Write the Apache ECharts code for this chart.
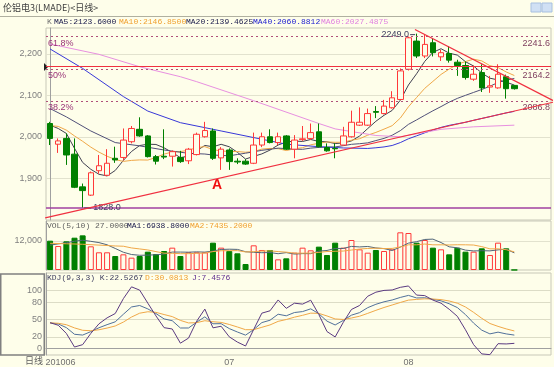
<!DOCTYPE html>
<html><head><meta charset="utf-8">
<script src="https://cdn.jsdelivr.net/npm/echarts@6/dist/echarts.min.js"></script>
<style>html,body{margin:0;padding:0;background:#FEFEEA}#c{width:554px;height:367px}</style>
</head><body><div id="c"></div><script>
// ---------- data ----------
const junDays = [1,2,3,4,7,8,9,10,11,14,15,16,17,18,21,22,23,24,25,28,29,30];
const julDays = [1,2,5,6,7,8,9,12,13,14,15,16,19,20,21,22,23,26,27,28,29,30];
const augDays = [2,3,4,5,6,9,10,11,12,13,16,17,18,19];
const emptySlots = 4;

const opens  = [2032,1982,1996,1958,1879,1859,1918,1907,1948,1950, 1988,2018,2002,1952,1953,1953,1950,1942,1957,2000, 2014,1949,1968,1941,1941,1936,1980,2000,1986,2002, 1970,1993,1996,2012,1974,1972,1980,2000,2028,2028, 2061,2056,2070,2090,2163,2231,2195,2227,2193,2201, 2180,2172,2139,2155,2120,2118,2145,2124];
const closes = [1996,1990,1956,1878,1870,1913,1930,1936,1944,1992, 2020,2002,1952,1941,1951,1964,1940,1970,2006,2015, 1948,1970,1940,1939,1934,1980,2000,1986,2000,1970, 1992,1995,2010,1976,1966,1971,2002,2035,2035,2056, 2059,2074,2094,2159,2239,2195,2223,2203,2203,2185, 2172,2143,2151,2118,2123,2151,2116,2116];
const lows   = [1980,1961,1932,1876,1828,1857,1911,1905,1937,1943, 1984,2000,1950,1933,1946,1928,1937,1934,1955,1998, 1944,1920,1920,1934,1932,1934,1975,1984,1980,1968, 1948,1990,1992,1974,1964,1948,1978,1998,2026,2026, 2045,2054,2068,2088,2160,2190,2190,2194,2183,2179, 2147,2138,2135,2108,2106,2116,2092,2114];
const highs  = [2036,1996,2008,1996,1887,1916,1956,1970,1976,2020, 2026,2047,2004,1956,2018,1967,1966,1973,2010,2036, 2020,1975,1972,1948,1946,2010,2010,2018,2010,2004, 2004,2026,2032,2032,1984,1984,2024,2063,2071,2068, 2074,2089,2110,2165,2242,2249,2246,2238,2210,2219, 2186,2182,2172,2175,2147,2175,2150,2125];
const volumes = [12130,9930,11870,13370,14340,9800,7320,7320,5790,6480, 5100,5790,7590,6620,7860,9240,5790,7320,7320,7320, 11310,9240,7860,6900,2480,10210,8280,8280,4410,4830, 7170,9240,8140,9660,6210,11310,9240,12410,8550,7170, 8280,7860,8550,15590,15310,11310,12410,9240,8550,6480, 9240,7590,7590,8970,6210,11310,8970,27];

// moving-average values before enough bars exist [index, value]
const ma5Head  = [[0,2028],[1,2020],[2,2008],[3,1972]];
const ma10Head = [[0,2027],[1,2025],[2,2016],[3,2002],[4,1989],[5,1975],[6,1963],[7,1953],[8,1945]];
const ma20Head = [[0,2068],[2,2048],[5,2014],[8,1986],[11,1978],[14,1968],[17,1960]];
const ma40Head = [[0,2212],[4,2165],[9,2097],[12,2062],[16,2034],[19,2022],[21,2014],[26,1994],[29,1982],[33,1976],[36,1973]];
const ma60Read = [[0,2224],[6,2199],[11,2169],[16,2145],[18,2133],[25,2087],[33,2032],[35,2019],[40,2003],[43,2000],[48,2018],[52,2024],[57,2028]];
const volMa5Head  = [[0,10300],[1,10800],[2,11300],[3,11900]];
const volMa10Head = [[0,11050],[2,10850],[4,10650],[6,10300],[8,9950]];
const kdjPrior = [52, 44]; // K, D before first bar

const fibValues = [2241.6, 2164.2, 2086.8];
const fibPct    = ['61.8%', '50%', '38.2%'];
const redLevel  = 2170;
const lowLevel  = 1828.0;
const highMark  = [45, 2249.0];
const lowMark   = [4, 1828.0];
const supportLine = [[-0.6, 1804], [61.9, 2084]];
const resistLine  = [[44.8, 2259], [61.9, 2086]];
const labelA = [20.5, 1883];

const maLegend  = ['K','MA5:2123.6000','MA10:2146.8500','MA20:2139.4625','MA40:2060.8812','MA60:2027.4875'];
const volLegend = ['VOL(5,10) 27.0000','MA1:6938.8000','MA2:7435.2000'];
const kdjLegend = ['KDJ(9,3,3) K:22.5267','D:30.0813','J:7.4576'];
const mainTicks = [1900,2000,2100,2200];
const volTicks  = [12000];
const kdjTicks  = [0,20,50,80,100];

// ---------- derived ----------
const BG = '#FEFEEA', UP = '#FF3838', DN = '#008000';
const cats = [];
junDays.forEach(d=>cats.push('2010-06-'+String(d).padStart(2,'0')));
julDays.forEach(d=>cats.push('2010-07-'+String(d).padStart(2,'0')));
augDays.forEach(d=>cats.push('2010-08-'+String(d).padStart(2,'0')));
for(let i=1;i<=emptySlots;i++) cats.push('+'+i);
const N = closes.length;
function sparse(pairs){const a=new Array(N).fill(null);pairs.forEach(p=>a[p[0]]=p[1]);return a;}
function ma(arr,n,head){const h=sparse(head);return arr.map((v,i)=>{if(i<n-1)return h[i];let s=0;for(let t=i-n+1;t<=i;t++)s+=arr[t];return +(s/n).toFixed(2);});}
const ma5=ma(closes,5,ma5Head), ma10=ma(closes,10,ma10Head), ma20=ma(closes,20,ma20Head), ma40=ma(closes,40,ma40Head), ma60=sparse(ma60Read);
const vma5=ma(volumes,5,volMa5Head), vma10=ma(volumes,10,volMa10Head);
const K=[],D=[],J=[];
(function(){let k=kdjPrior[0],d=kdjPrior[1];for(let i=0;i<N;i++){let hh=-Infinity,ll=Infinity;for(let t=Math.max(0,i-8);t<=i;t++){hh=Math.max(hh,highs[t]);ll=Math.min(ll,lows[t]);}const rsv=hh===ll?50:(closes[i]-ll)/(hh-ll)*100;k=2/3*k+rsv/3;d=2/3*d+k/3;K.push(+k.toFixed(2));D.push(+d.toFixed(2));J.push(+(3*k-2*d).toFixed(2));}})();
const candle = opens.map((o,i)=>[o,closes[i],lows[i],highs[i]]);
const volData = volumes.map((v,i)=>{const up=closes[i]>=opens[i];return {value:v,itemStyle:{color:up?BG:DN,borderColor:up?UP:DN,borderWidth:1}};});

const chart = echarts.init(document.getElementById('c'));
const F = '"Liberation Sans", Arial, sans-serif';
const M = '"Liberation Mono", "DejaVu Sans Mono", monospace';
const L = 46, R = 3;
function monthLabel(v,i){
  if(i===0) return '{first|'+v.slice(0,4)+v.slice(5,7)+'}';
  if(v[0]!=='+' && v.slice(5,7)!==cats[i-1].slice(5,7)) return v.slice(5,7);
  return '';
}
function catAxis(g,show){return {type:'category',gridIndex:g,data:cats,boundaryGap:true,
  axisLine:{show:show,lineStyle:{color:'#A0A0A0'}},axisTick:{show:false},
  axisLabel:{show:show,interval:0,color:'#707070',fontSize:9,fontFamily:F,margin:3,formatter:monthLabel,
    rich:{first:{fontSize:9,fontFamily:F,color:'#707070',padding:[0,0,0,21]}}},
  splitLine:{show:false}};}
function lineS(data,color,x,y,w){return {type:'line',data:data,xAxisIndex:x,yAxisIndex:y,symbol:'none',connectNulls:true,
  lineStyle:{color:color,width:w||1},silent:true,z:3};}
const fibMarks=[];
fibValues.forEach((v,k)=>{
  fibMarks.push({yAxis:v,lineStyle:{type:[2,3],color:'#B0507A',width:1},label:{show:true,position:'insideEndBottom',formatter:v.toFixed(1),color:'#804060',fontSize:9,fontFamily:F,distance:[1,2]}});
  fibMarks.push({yAxis:v,lineStyle:{type:'solid',color:'rgba(0,0,0,0)',width:1},label:{show:true,position:'insideStartBottom',formatter:fibPct[k],color:'#993377',fontSize:9,fontFamily:F,distance:[2,2]}});
});
fibMarks.push({yAxis:redLevel,lineStyle:{type:'solid',color:'#F03040',width:1.2},label:{show:false}});
fibMarks.push({yAxis:lowLevel,lineStyle:{type:'solid',color:'#A040A0',width:1.5},label:{show:false}});

function txt(x,y,s,c,font,align){return {type:'text',x:x,y:y,silent:true,style:{text:s,fill:c,font:font||('8px '+M),align:align||'left',verticalAlign:'middle'}};}

const option = {
  backgroundColor: BG,
  animation:false,
  grid:[
    {left:L,right:R,top:28,height:192,show:true,borderColor:'#C8C8B8',borderWidth:1},
    {left:L,right:R,top:221,height:49,show:true,borderColor:'#C8C8B8',borderWidth:1},
    {left:L,right:R,top:273,height:82,show:true,borderColor:'#C8C8B8',borderWidth:1}
  ],
  xAxis:[catAxis(0,false),catAxis(1,false),catAxis(2,true),
    {type:'value',gridIndex:0,min:-0.5,max:cats.length-0.5,show:false}],
  yAxis:[
    {type:'value',gridIndex:0,min:1799,max:2262.6,axisLine:{show:true,lineStyle:{color:'#A0A0A0'}},axisTick:{show:false,customValues:mainTicks},
     axisLabel:{customValues:mainTicks,color:'#808080',fontSize:9,fontFamily:F,margin:4},splitLine:{show:true,lineStyle:{color:'#E2E2CE'}}},
    {type:'value',gridIndex:1,min:0,max:20276,axisLine:{show:true,lineStyle:{color:'#A0A0A0'}},axisTick:{show:false,customValues:volTicks},
     axisLabel:{customValues:volTicks,color:'#808080',fontSize:9,fontFamily:F,margin:4},splitLine:{show:true,lineStyle:{color:'#E2E2CE'}}},
    {type:'value',gridIndex:2,min:-11.6,max:130.7,axisLine:{show:true,lineStyle:{color:'#A0A0A0'}},axisTick:{show:false,customValues:kdjTicks},
     axisLabel:{customValues:kdjTicks,color:'#808080',fontSize:9,fontFamily:F,margin:4},splitLine:{show:true,lineStyle:{color:'#DCDCC6'}}}
  ],
  series:[
    {type:'line',xAxisIndex:3,yAxisIndex:0,data:[],silent:true,z:1,markLine:{silent:true,symbol:['none','none'],data:fibMarks}},
    {type:'candlestick',xAxisIndex:0,yAxisIndex:0,data:candle,barWidth:6,z:4,
     itemStyle:{color:BG,color0:DN,borderColor:UP,borderColor0:DN,borderWidth:1},
     markPoint:{silent:true,data:[
       {coord:[cats[highMark[0]],highMark[1]],symbol:'rect',symbolSize:[5,1],symbolOffset:[-4,1],itemStyle:{color:'#404060'},
        label:{show:true,position:'left',distance:1,formatter:highMark[1].toFixed(1),color:'#404060',fontSize:9,fontFamily:F}},
       {coord:[cats[lowMark[0]],lowMark[1]],symbol:'rect',symbolSize:[7,1],symbolOffset:[5,0],itemStyle:{color:'#404060'},
        label:{show:true,position:'right',distance:2,formatter:lowMark[1].toFixed(1),color:'#404060',fontSize:9,fontFamily:F}}
     ]}},
    lineS(ma5,'#404050',0,0),
    lineS(ma10,'#F0A848',0,0),
    lineS(ma20,'#505078',0,0),
    lineS(ma40,'#3838D8',0,0),
    lineS(ma60,'#E890E0',0,0),
    {type:'line',xAxisIndex:3,yAxisIndex:0,data:supportLine,symbol:'none',silent:true,lineStyle:{color:'#F03040',width:1.2},z:5,
     markPoint:{silent:true,data:[{coord:labelA,symbol:'circle',symbolSize:0,label:{show:true,position:'inside',formatter:'A',color:'#F01010',fontSize:14,fontWeight:'bold',fontFamily:F}}]}},
    {type:'line',xAxisIndex:3,yAxisIndex:0,data:resistLine,symbol:'none',silent:true,lineStyle:{color:'#F03040',width:1.2},z:5},
    {type:'bar',xAxisIndex:1,yAxisIndex:1,data:volData,barWidth:6,silent:true},
    lineS(vma5,'#506478',1,1),
    lineS(vma10,'#F0A848',1,1),
    lineS(K,'#50709A',2,2),
    lineS(D,'#F0A848',2,2),
    lineS(J,'#5A3A80',2,2)
  ],
  graphic:[
    {type:'line',shape:{x1:0,y1:16.5,x2:554,y2:16.5},style:{stroke:'#B0B0A0',lineWidth:1},silent:true},
    txt(3,8,'伦铝电3(LMADE)<日线>','#404040','9px "Noto Sans CJK SC"'),
    {type:'rect',shape:{x:531,y:3,width:10,height:9},style:{fill:'#D0E0F4',stroke:'#A8C0E0'},silent:true},
    {type:'rect',shape:{x:542,y:3,width:10,height:9},style:{fill:'#D0E0F4',stroke:'#A8C0E0'},silent:true},
    txt(47,22,maLegend[0],'#707070'),
    txt(54,22,maLegend[1],'#202050'),
    txt(119,22,maLegend[2],'#F0A030'),
    txt(186,22,maLegend[3],'#202050'),
    txt(253,22,maLegend[4],'#2020D0'),
    txt(321,22,maLegend[5],'#E080E0'),
    txt(47,226,volLegend[0],'#606060'),
    txt(127,226,volLegend[1],'#202050'),
    txt(190,226,volLegend[2],'#F0A030'),
    txt(47,278,kdjLegend[0],'#404060'),
    txt(145,278,kdjLegend[1],'#F0A030'),
    txt(192,278,kdjLegend[2],'#603090'),
    txt(43,361,'日线','#606060','9px "Noto Sans CJK SC"','right'),
    {type:'rect',shape:{x:0.75,y:274,width:43.5,height:81},style:{fill:'none',stroke:'#808080',lineWidth:1.5},silent:true},
    {type:'polygon',shape:{points:[[44,63],[48,67],[44,71]]},style:{fill:'#202020'},silent:true}
  ]
};
chart.setOption(option);
</script></body></html>
